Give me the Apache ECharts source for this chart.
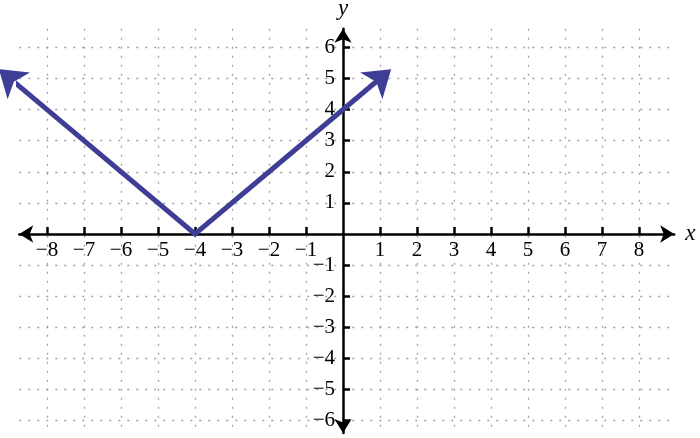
<!DOCTYPE html>
<html>
<head>
<meta charset="utf-8">
<script src="https://cdn.jsdelivr.net/npm/echarts@6/dist/echarts.min.js"></script>
<style>
  html, body { margin: 0; padding: 0; background: #fff; }
  #graph { width: 700px; height: 438px; }
</style>
</head>
<body>
<div id="graph"></div>
<script>
// tick marks on each axis (0 has no label)
const xTicks = [-8, -7, -6, -5, -4, -3, -2, -1, 1, 2, 3, 4, 5, 6, 7, 8];
const yTicks = [-6, -5, -4, -3, -2, -1, 1, 2, 3, 4, 5, 6];

// y = |x + 4|: the drawn shaft (left end, vertex, right end)
const shaftX = [-8.95, -4, 0.95];
const shaftY = [4.95, 0, 4.95];
// where the arrowheads point to
const tipX = [-9.3, 1.3];
const tipY = [5.3, 5.3];

const blue = '#3e3e96';
const serif = 'Liberation Serif';

// plot box
const box = { left: 19.25, right: 25.8, top: 28.7, bottom: 5 };
const xRange = [-8.75, 8.95];
const yRange = [-6.4, 6.6];
const W = 700, H = 438;
const pxX = (W - box.left - box.right) / (xRange[1] - xRange[0]);
const pxY = (H - box.top - box.bottom) / (yRange[1] - yRange[0]);

function minus(v) {
    return v < 0 ? '\u2212' + Math.abs(v) : String(v);
}

const shaft = shaftX.map((x, i) => [x, shaftY[i]]);
const heads = [
    { coords: [shaft[0], [tipX[0], tipY[0]]] },
    { coords: [shaft[2], [tipX[1], tipY[1]]] }
];

const chart = echarts.init(document.getElementById('graph'));

const axisLine = {
    onZero: false,
    symbol: ['arrow', 'arrow'],
    symbolSize: [13, 14],
    lineStyle: { color: '#000', width: 2.5 }
};
const grid = { color: '#a0a0a0', width: 1.3, type: [2, 7] };

const option = {
    backgroundColor: '#fff',
    animation: false,
    grid: Object.assign({ outerBoundsMode: 'none', containLabel: false }, box),
    xAxis: {
        type: 'value',
        position: 'bottom',
        offset: -(0 - yRange[0]) * pxY,
        min: xRange[0],
        max: xRange[1],
        name: 'x',
        nameLocation: 'end',
        nameGap: 11,
        nameTextStyle: { fontFamily: serif, fontStyle: 'italic', fontSize: 23, color: '#000' },
        axisLine: axisLine,
        axisTick: {
            show: true,
            inside: true,
            length: 7,
            customValues: xTicks,
            lineStyle: { color: '#000', width: 2.5 }
        },
        axisLabel: {
            customValues: xTicks,
            formatter: minus,
            margin: 6,
            fontFamily: serif,
            fontSize: 21,
            color: '#000'
        },
        splitLine: { show: true, lineStyle: grid }
    },
    yAxis: {
        type: 'value',
        position: 'left',
        offset: -(0 - xRange[0]) * pxX,
        min: yRange[0],
        max: yRange[1],
        name: 'y',
        nameLocation: 'end',
        nameGap: 8,
        nameTextStyle: { fontFamily: serif, fontStyle: 'italic', fontSize: 23, color: '#000' },
        axisLine: axisLine,
        axisTick: {
            show: true,
            inside: true,
            length: 7,
            customValues: yTicks,
            lineStyle: { color: '#000', width: 2.5 }
        },
        axisLabel: {
            customValues: yTicks,
            formatter: minus,
            margin: 8,
            fontFamily: serif,
            fontSize: 21,
            color: '#000'
        },
        splitLine: { show: true, lineStyle: grid }
    },
    series: [
        {
            type: 'line',
            data: shaft,
            symbol: 'none',
            clip: false,
            lineStyle: { color: blue, width: 5, join: 'miter' },
            z: 5
        },
        {
            // arrowheads only
            type: 'lines',
            coordinateSystem: 'cartesian2d',
            data: heads,
            clip: false,
            symbol: ['none', 'arrow'],
            symbolSize: [20, 26],
            lineStyle: { color: blue, width: 0, opacity: 1 },
            z: 6
        }
    ]
};

chart.setOption(option);
</script>
</body>
</html>
